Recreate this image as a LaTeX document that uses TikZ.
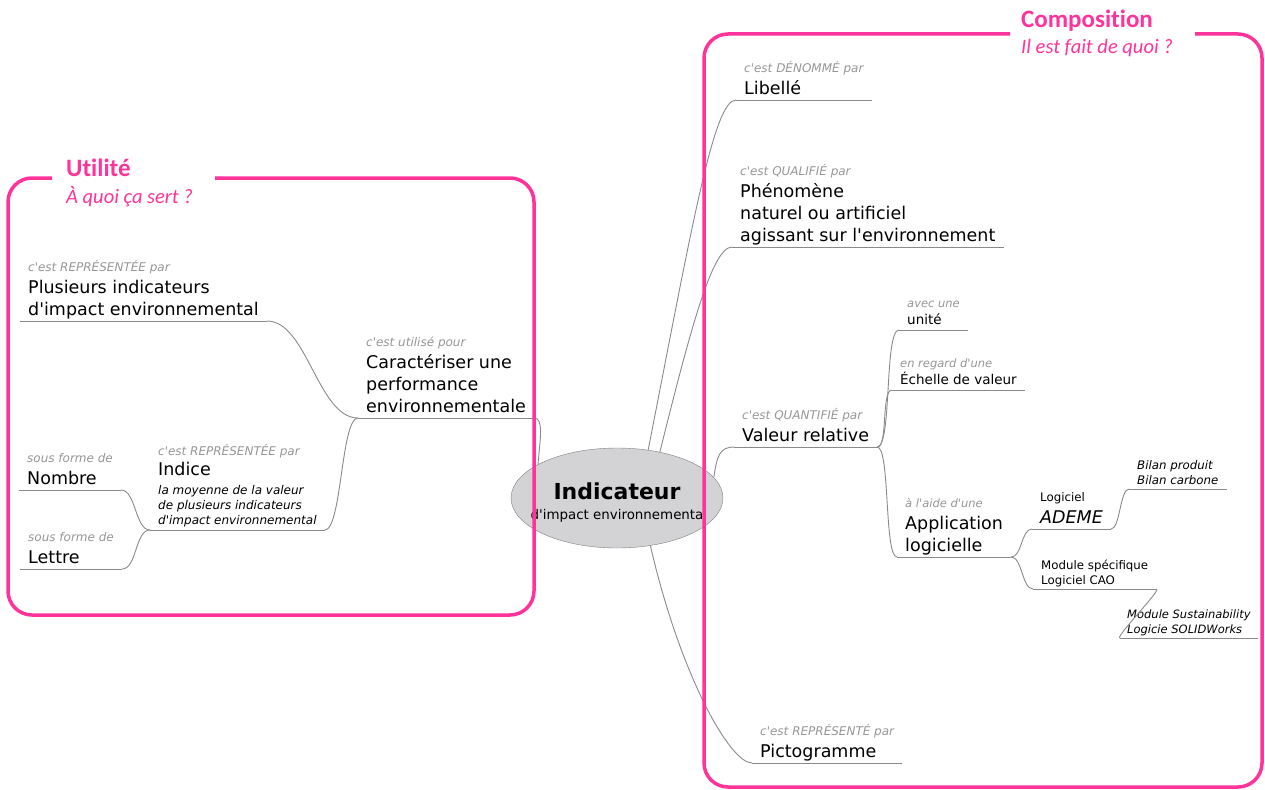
\documentclass[tikz,border=0pt]{standalone}
\usepackage{fontspec}
\setmainfont{DejaVu Sans}[Ligatures=TeXOff]
\newfontfamily\titlefont{Carlito}[Ligatures=NoCommon]
\usetikzlibrary{shapes.geometric}

\definecolor{framepink}{RGB}{255,51,153}
\definecolor{lblgray}{RGB}{150,150,150}
\definecolor{linkgray}{RGB}{138,138,138}
\definecolor{bubblegray}{RGB}{211,211,213}

\newcommand{\lbl}[1]{{\fontsize{12}{14}\selectfont\itshape\color{lblgray}#1}}
\newcommand{\slbl}[1]{{\fontsize{11.5}{14}\selectfont\itshape\color{lblgray}#1}}

\begin{document}
\begin{tikzpicture}[x=1pt, y=-1pt,
    topic/.style = {anchor=south west, align=left, inner xsep=8pt, inner ysep=5pt, text depth=0pt, font=\fontsize{17.5}{22}\selectfont},
    sub/.style = {topic, font=\fontsize{13.5}{17.5}\selectfont},
    leaf/.style = {topic, inner ysep=4pt, font=\fontsize{11.8}{15.5}\selectfont},
    link/.style = {draw=linkgray, line width=0.9pt},
    frame/.style = {draw=framepink, line width=3.5pt, rounded corners=24pt},
    title/.style = {anchor=base west, inner sep=0pt, text=framepink, font=\titlefont\fontsize{25}{28}\selectfont\bfseries},
    question/.style = {anchor=base west, inner sep=0pt, text=framepink, font=\titlefont\fontsize{20.5}{24}\selectfont\itshape}]
    \useasboundingbox (0,0) rectangle (1265,789);

    % centre
    \node[ellipse, draw=gray, fill=bubblegray, minimum width=212pt, minimum height=100pt] (indic) at (617,498) {};
    \node[align=center, font=\fontsize{13.4}{20}\selectfont] (indictxt) at (617,503) {{\fontsize{22}{24}\selectfont\bfseries Indicateur}\\d'impact environnementa};

    % utilite
    \node[topic] (caract) at (358,418) {\lbl{c'est utilisé pour}\\Caractériser une\\performance\\environnementale};
    \node[topic] (plusieurs) at (20,321) {\lbl{c'est REPRÉSENTÉE par}\\Plusieurs indicateurs\\d'impact environnemental};
    \node[topic, font=\fontsize{17.5}{20}\selectfont] (indice) at (150,530) {\lbl{c'est REPRÉSENTÉE par}\\Indice\\[-1pt]{\fontsize{12}{15}\selectfont\itshape la moyenne de la valeur}\\[-5pt]{\fontsize{12}{15}\selectfont\itshape de plusieurs indicateurs}\\[-5pt]{\fontsize{12}{15}\selectfont\itshape d'impact environnemental}};
    \node[topic] (nombre) at (19,490) {\lbl{sous forme de}\\Nombre};
    \node[topic] (lettre) at (20,569) {\lbl{sous forme de}\\Lettre};

    % composition
    \node[topic] (libelle) at (736,100) {\lbl{c'est DÉNOMMÉ par}\\Libellé};
    \node[topic] (phenomene) at (732,247) {\lbl{c'est QUALIFIÉ par}\\Phénomène\\naturel ou artificiel\\agissant sur l'environnement};
    \node[topic] (valeur) at (734,447) {\lbl{c'est QUANTIFIÉ par}\\Valeur relative};
    \node[sub] (unite) at (899,330) {\slbl{avec une}\\unité};
    \node[sub] (echelle) at (892,390) {\slbl{en regard d'une}\\Échelle de valeur};
    \node[topic] (appli) at (897,557) {\slbl{à l'aide d'une}\\Application\\logicielle};
    \node[leaf, inner ysep=5pt, font=\fontsize{11.8}{22}\selectfont] (ademe) at (1032,529) {Logiciel\\{\fontsize{17.5}{22}\selectfont\itshape ADEME}};
    \node[leaf, font=\fontsize{11.8}{15.5}\selectfont\itshape] (bilan) at (1129,489) {Bilan produit\\Bilan carbone};
    \node[leaf] (module) at (1033,589) {Module spécifique\\Logiciel CAO};
    \node[leaf, inner xsep=7pt, font=\fontsize{11.5}{15.5}\selectfont\itshape] (solid) at (1120,638) {Module Sustainability\\Logicie SOLIDWorks};
    \node[topic] (picto) at (752,763) {\lbl{c'est REPRÉSENTÉ par}\\Pictogramme};

    % underlines
    \draw[link] (caract.south west) -- (caract.south east);
    \draw[link] (plusieurs.south west) -- (plusieurs.south east);
    \draw[link] (indice.south west) -- (indice.south east);
    \draw[link] (nombre.south west) -- (nombre.south east);
    \draw[link] (lettre.south west) -- (lettre.south east);
    \draw[link] (libelle.south west) -- (libelle.south east);
    \draw[link] (phenomene.south west) -- (phenomene.south east);
    \draw[link] (valeur.south west) -- (valeur.south east);
    \draw[link] (unite.south west) -- (unite.south east);
    \draw[link] (echelle.south west) -- (echelle.south east);
    \draw[link] (appli.south west) -- (appli.south east);
    \draw[link] (ademe.south west) -- (ademe.south east);
    \draw[link] (bilan.south west) -- (bilan.south east);
    \draw[link] (module.south west) -- (module.south east);
    \draw[link] (solid.south west) -- (solid.south east);
    \draw[link] (picto.south west) -- (picto.south east);

    % branches from the centre
    \draw[link] (indic.157) .. controls +(2,-25) and +(10,0) .. (caract.south east);
    \draw[link] (indic.57) .. controls +(45,-230) and +(-22,0) .. (libelle.south west);
    \draw[link] (indic.47) .. controls +(30,-120) and +(-20,0) .. (phenomene.south west);
    \draw[link] (indic.12) .. controls +(3,-22) and +(-14,0) .. (valeur.south west);
    \draw[link] (indic.-55) .. controls +(30,130) and +(-22,0) .. (picto.south west);

    % left branches
    \draw[link] (plusieurs.south east) .. controls +(40,0) and +(-40,0) .. (caract.south west);
    \draw[link] (indice.south east) .. controls +(17,0) and +(-17,0) .. (caract.south west);
    \draw[link] (nombre.south east) .. controls +(15,0) and +(-15,0) .. (indice.south west);
    \draw[link] (lettre.south east) .. controls +(15,0) and +(-15,0) .. (indice.south west);

    % right branches
    \draw[link] (valeur.south east) .. controls +(15,0) and +(-15,0) .. (unite.south west);
    \draw[link] (valeur.south east) .. controls +(11,0) and +(-11,0) .. (echelle.south west);
    \draw[link] (valeur.south east) .. controls +(13,0) and +(-13,0) .. (appli.south west);
    \draw[link] (appli.south east) .. controls +(11,0) and +(-11,0) .. (ademe.south west);
    \draw[link] (appli.south east) .. controls +(11,0) and +(-11,0) .. (module.south west);
    \draw[link] (ademe.south east) .. controls +(9,0) and +(-9,0) .. (bilan.south west);
    \draw[link] (module.south east) .. controls +(6,0) and +(-6,0) .. (solid.south west);

    % frames
    \draw[frame] (215,178) -- (534,178) -- (534,615) -- (8,615) -- (8,178) -- (52,178);
    \draw[frame] (1195,34) -- (1262,34) -- (1262,787) -- (704,787) -- (704,34) -- (1010,34);
    \node[title] (utilite) at (66,176) {Utilité};
    \node[question] (utiliteq) at (66,203) {À quoi ça sert ?};
    \node[title] (compo) at (1021,28) {Composition};
    \node[question] (compoq) at (1021,54) {Il est fait de quoi ?};
\end{tikzpicture}
\end{document}
